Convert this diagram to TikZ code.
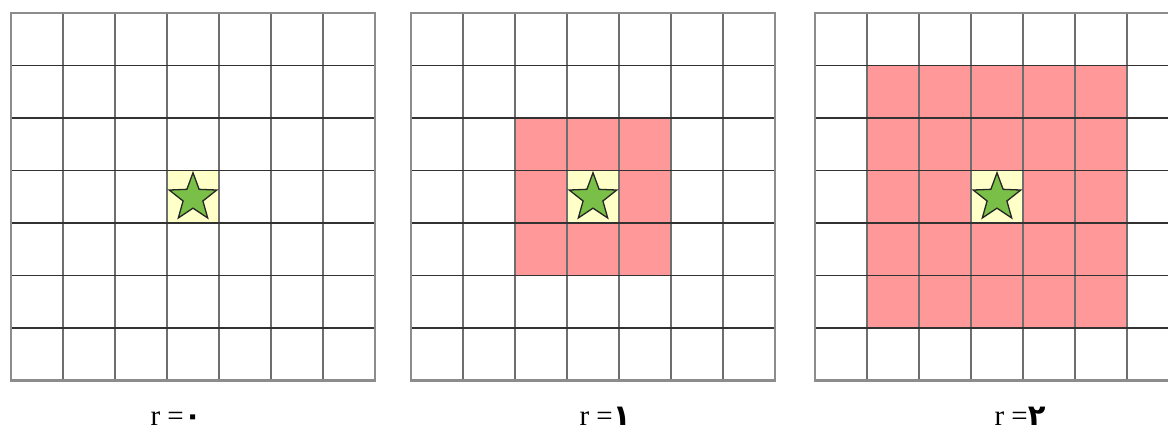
\documentclass[tikz,border=0pt]{standalone}
\usepackage{fontspec}
\setmainfont{Liberation Serif}
\newfontfamily\arabicfont[Script=Arabic]{DejaVu Sans}
\TeXXeTstate=1
\usetikzlibrary{shapes.geometric}
\definecolor{redfill}{RGB}{255,152,152}
\definecolor{yellowfill}{RGB}{255,255,200}
\definecolor{stargreen}{RGB}{122,192,72}
\definecolor{vgray}{RGB}{110,110,110}
\definecolor{hgray}{RGB}{50,50,50}
\definecolor{bgray}{RGB}{140,140,140}
\tikzset{
  vline/.style={draw=vgray, line width=1.6pt},
  hline/.style={draw=hgray, line width=1.5pt},
  border/.style={draw=bgray, line width=2.2pt},
  starnode/.style={star, star points=5, star point ratio=2.4, minimum size=50pt, inner sep=0pt, fill=stargreen, draw=black!85, line width=1.3pt},
  lbl/.style={anchor=base, inner sep=0pt, font=\fontsize{29}{30}\selectfont}
}
\newcommand\mygrid[3]{%
  \begin{scope}[shift={(#1,13)}]
    \fill[white] (0,0) rectangle (7*52,7*52.5);
    \ifnum#2>0
      \fill[redfill] ({(3-#2)*52},{(3-#2)*52.5}) rectangle ({(4+#2)*52},{(4+#2)*52.5});
    \fi
    \fill[yellowfill] (3*52,3*52.5) rectangle (4*52,4*52.5);
    \foreach \i in {1,...,6} \draw[vline] (\i*52,0) -- (\i*52,7*52.5);
    \foreach \j in {1,...,6} \draw[hline] (0,\j*52.5) -- (7*52,\j*52.5);
    \draw[border] (0,0) rectangle (7*52,7*52.5);
    \node[starnode] (#3) at (3.5*52,3.5*52.5+1) {};
  \end{scope}}
\begin{document}
\begin{tikzpicture}[x=1pt,y=-1pt]
  \useasboundingbox (0,0) rectangle (1168,432);
  \clip (0,0) rectangle (1168,432);
  \fill[white] (0,0) rectangle (1168,432);
  \mygrid{11}{0}{s0}
  \mygrid{411}{1}{s1}
  \mygrid{815}{2}{s2}
  \node[lbl] (l0) at (176,425) {r =\arabicfont\bfseries\beginR ٠\endR};
  \node[lbl] (l1) at (605,425) {r =\arabicfont\bfseries\beginR ١\endR};
  \node[lbl] (l2) at (1020,425) {r =\arabicfont\bfseries\beginR ٢\endR};
\end{tikzpicture}
\end{document}
